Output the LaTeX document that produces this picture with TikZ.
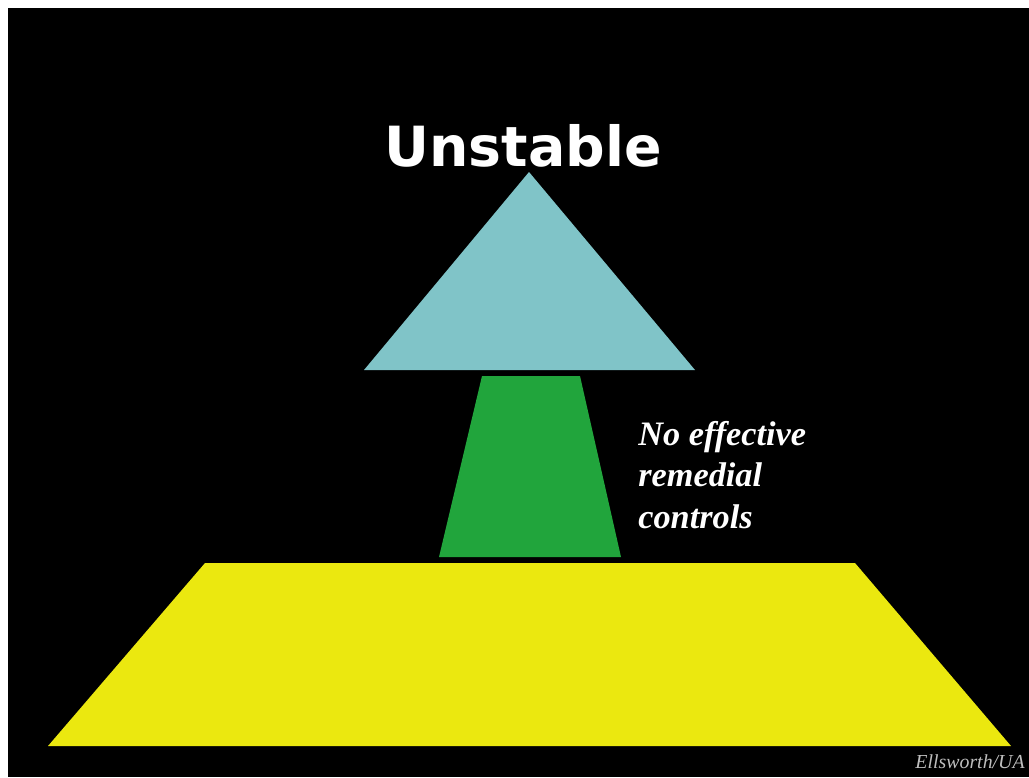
\documentclass[tikz,border=0pt]{standalone}
\usepackage{fontspec}
\setmainfont{Liberation Serif}
\newfontfamily\titlefont{DejaVu Sans}
\usepackage{xcolor}
\usepackage{tikz}
\usetikzlibrary{positioning}
\definecolor{capteal}{RGB}{128,196,200}
\definecolor{stemgreen}{RGB}{33,165,60}
\definecolor{baseyellow}{RGB}{235,232,15}
\definecolor{creditgray}{RGB}{190,190,190}
\tikzset{
  tealpart/.style={fill=capteal, draw=none},
  greenpart/.style={fill=stemgreen, draw=none},
  yellowpart/.style={fill=baseyellow, draw=none},
  titletext/.style={text=white, inner sep=0pt, font=\titlefont\bfseries\fontsize{31.5}{36}\selectfont},
  notetext/.style={text=white, inner sep=0pt, align=left, font=\bfseries\itshape\fontsize{19.5}{23.6}\selectfont},
  credittext/.style={text=creditgray, inner sep=0pt, font=\itshape\fontsize{11.3}{13}\selectfont}
}
\begin{document}
\begin{tikzpicture}[x=0.2mm, y=-0.2mm]
  % frame
  \fill[white] (0,0) rectangle (1029,777);
  \fill[black] (8,8) rectangle (1029,777);
  \useasboundingbox (0,0) rectangle (1029,777);
  % shapes
  \fill[yellowpart] (205,563) -- (855,563) -- (1011,746) -- (48,746) -- cycle;
  \fill[greenpart]  (482,376) -- (580,376) -- (621,557) -- (439,557) -- cycle;
  \fill[tealpart]   (529,172) -- (695,370) -- (364,370) -- cycle;
  % texts
  \node[titletext, anchor=base] (title) at (523,166) {Unstable};
  \node[notetext, anchor=north west] (note) at (638,421)
        {No effective\\remedial\\controls};
  \node[credittext, anchor=base east] (credit) at (1025,768) {Ellsworth/UA};
\end{tikzpicture}
\end{document}
